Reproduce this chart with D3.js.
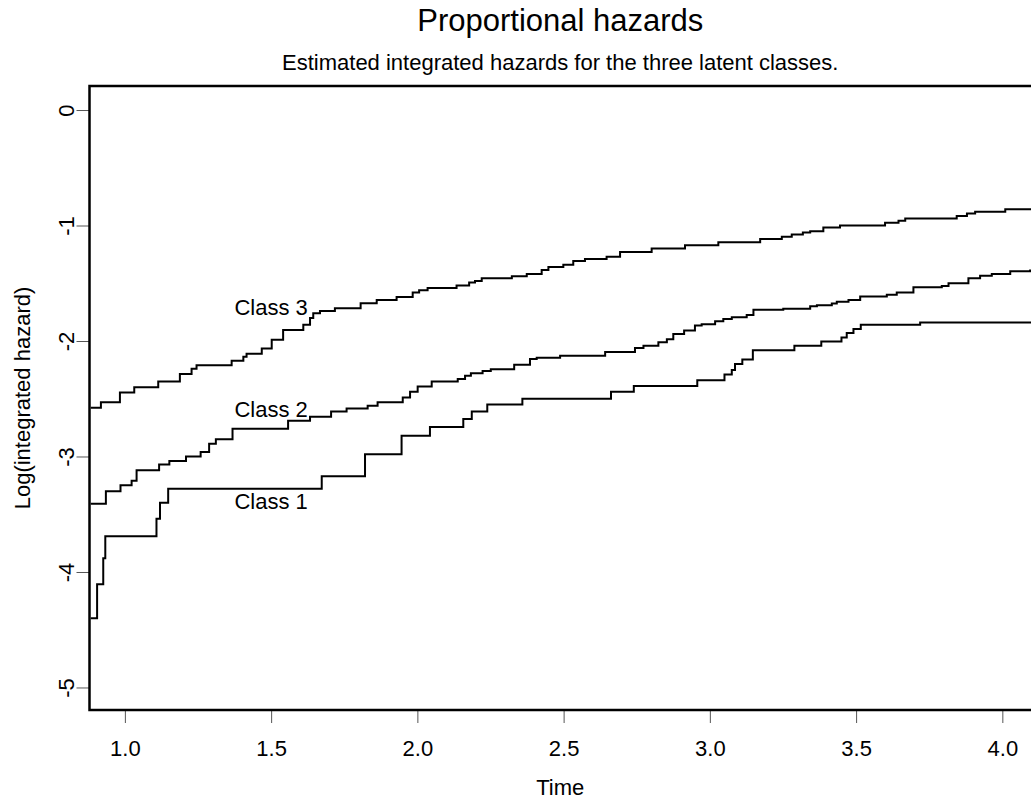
<!DOCTYPE html>
<html>
<head>
<meta charset="utf-8">
<script src="https://cdn.jsdelivr.net/npm/d3@7"></script>
<style>
  html, body { margin: 0; padding: 0; background: #fff; }
  svg { display: block; font-family: "Liberation Sans", Arial, Helvetica, sans-serif; }
</style>
</head>
<body>
<svg id="chart" width="1031" height="800"></svg>
<script>
// Step points of the estimated log integrated hazard, one pair of arrays per class.
const timesClass1 = [0.883, 0.905, 0.926, 0.933, 1.108, 1.120, 1.148, 1.673, 1.821, 1.946,
  2.043, 2.157, 2.186, 2.239, 2.359, 2.662, 2.740, 2.957, 3.050, 3.075, 3.086, 3.111,
  3.147, 3.289, 3.381, 3.450, 3.468, 3.491, 3.516, 3.719];
const logHazClass1 = [-4.40, -4.106, -3.88, -3.69, -3.54, -3.40, -3.28, -3.17, -2.98, -2.82,
  -2.745, -2.675, -2.61, -2.55, -2.50, -2.44, -2.39, -2.34, -2.29, -2.25, -2.20, -2.16,
  -2.08, -2.04, -2.005, -1.97, -1.93, -1.896, -1.86, -1.84];

const timesClass2 = [0.883, 0.935, 0.985, 1.023, 1.040, 1.117, 1.152, 1.209, 1.259, 1.288,
  1.311, 1.368, 1.558, 1.633, 1.705, 1.758, 1.830, 1.864, 1.950, 1.975, 2.001, 2.049,
  2.138, 2.163, 2.183, 2.223, 2.251, 2.331, 2.385, 2.408, 2.488, 2.642, 2.744, 2.773,
  2.824, 2.853, 2.875, 2.912, 2.949, 2.972, 3.018, 3.046, 3.075, 3.126, 3.149, 3.251,
  3.343, 3.366, 3.417, 3.434, 3.474, 3.514, 3.605, 3.639, 3.696, 3.793, 3.816, 3.884,
  3.924, 3.964, 4.027, 4.095];
const logHazClass2 = [-3.41, -3.30, -3.25, -3.21, -3.12, -3.07, -3.04, -3.00, -2.96, -2.89,
  -2.85, -2.76, -2.69, -2.655, -2.61, -2.585, -2.56, -2.53, -2.49, -2.44, -2.395, -2.35,
  -2.33, -2.30, -2.28, -2.26, -2.245, -2.205, -2.156, -2.145, -2.127, -2.095, -2.06, -2.04,
  -2.01, -1.985, -1.94, -1.91, -1.865, -1.855, -1.83, -1.81, -1.795, -1.775, -1.73, -1.72,
  -1.70, -1.69, -1.675, -1.66, -1.645, -1.615, -1.60, -1.58, -1.535, -1.524, -1.50, -1.457,
  -1.435, -1.42, -1.397, -1.39];

const timesClass3 = [0.883, 0.918, 0.983, 1.032, 1.114, 1.188, 1.228, 1.245, 1.365, 1.405,
  1.416, 1.468, 1.502, 1.541, 1.610, 1.633, 1.644, 1.667, 1.718, 1.806, 1.861, 1.929,
  1.984, 2.006, 2.035, 2.134, 2.177, 2.197, 2.220, 2.323, 2.374, 2.425, 2.448, 2.499,
  2.533, 2.573, 2.647, 2.693, 2.801, 2.915, 3.029, 3.172, 3.246, 3.280, 3.318, 3.343,
  3.388, 3.445, 3.599, 3.645, 3.668, 3.844, 3.879, 3.907, 4.010];
const logHazClass3 = [-2.577, -2.53, -2.445, -2.40, -2.35, -2.286, -2.24, -2.21, -2.17, -2.136,
  -2.11, -2.065, -1.99, -1.905, -1.86, -1.80, -1.76, -1.74, -1.717, -1.674, -1.645, -1.62,
  -1.58, -1.56, -1.54, -1.52, -1.494, -1.48, -1.457, -1.44, -1.42, -1.385, -1.36, -1.34,
  -1.307, -1.29, -1.27, -1.23, -1.20, -1.17, -1.145, -1.117, -1.097, -1.077, -1.06, -1.05,
  -1.018, -1.00, -0.975, -0.958, -0.94, -0.918, -0.895, -0.88, -0.86];

const classNames = ["Class 1", "Class 2", "Class 3"];
const labelTimes = [1.5, 1.5, 1.5];
const labelLogHaz = [-3.39, -2.59, -1.71];

const xTickValues = [1.0, 1.5, 2.0, 2.5, 3.0, 3.5, 4.0];
const xTickLabels = ["1.0", "1.5", "2.0", "2.5", "3.0", "3.5", "4.0"];
const yTickValues = [0, -1, -2, -3, -4, -5];
const yTickLabels = ["0", "-1", "-2", "-3", "-4", "-5"];

const titleText = "Proportional hazards";
const subtitleText = "Estimated integrated hazards for the three latent classes.";
const xLabel = "Time";
const yLabel = "Log(integrated hazard)";

// ---- layout ----
const plotLeft = 89.5, plotRight = 1031, plotTop = 86, plotBottom = 710;
const xDomain = [0.879, 4.098];
const yDomain = [-5.195, 0.208];

const svg = d3.select("#chart");

const x = d3.scaleLinear().domain(xDomain).range([plotLeft, plotRight]);
const y = d3.scaleLinear().domain(yDomain).range([plotBottom, plotTop]);

svg.append("defs").append("clipPath").attr("id", "plot-clip")
  .append("rect")
  .attr("x", plotLeft).attr("y", plotTop)
  .attr("width", plotRight - plotLeft + 20).attr("height", plotBottom - plotTop);

// Step curves
const series = [
  { t: timesClass1, v: logHazClass1 },
  { t: timesClass2, v: logHazClass2 },
  { t: timesClass3, v: logHazClass3 }
].map(s => {
  const pts = s.t.map((t, i) => [t, s.v[i]]);
  // carry the last level to the right edge of the time axis
  pts.push([xDomain[1] + 0.05, s.v[s.v.length - 1]]);
  return pts;
});

const line = d3.line()
  .x(d => x(d[0]))
  .y(d => y(d[1]))
  .curve(d3.curveStepAfter);

svg.append("g").attr("clip-path", "url(#plot-clip)")
  .selectAll("path")
  .data(series)
  .join("path")
  .attr("d", line)
  .attr("fill", "none")
  .attr("stroke", "#000")
  .attr("stroke-width", 2)
  .attr("stroke-linejoin", "miter");

// Curve labels
svg.append("g")
  .selectAll("text")
  .data(classNames)
  .join("text")
  .attr("x", (d, i) => x(labelTimes[i]))
  .attr("y", (d, i) => y(labelLogHaz[i]))
  .attr("dy", "0.36em")
  .attr("text-anchor", "middle")
  .attr("font-size", 22)
  .attr("fill", "#000")
  .text(d => d);

// X axis ticks
const xAxis = svg.append("g")
  .attr("transform", `translate(0,${plotBottom})`)
  .call(d3.axisBottom(x).tickValues(xTickValues).tickSize(13)
    .tickFormat((d, i) => xTickLabels[i]));
xAxis.select(".domain").remove();
xAxis.selectAll(".tick line").attr("stroke", "#555").attr("stroke-width", 1);
xAxis.selectAll(".tick text")
  .attr("y", 46).attr("dy", null)
  .attr("font-size", 22).attr("fill", "#000");
xAxis.attr("font-family", null);

// Y axis ticks, labels turned parallel to the axis
const yAxis = svg.append("g")
  .attr("transform", `translate(${plotLeft},0)`)
  .call(d3.axisLeft(y).tickValues(yTickValues).tickSize(13)
    .tickFormat((d, i) => yTickLabels[i]));
yAxis.select(".domain").remove();
yAxis.selectAll(".tick line").attr("stroke", "#555").attr("stroke-width", 1);
yAxis.selectAll(".tick text")
  .attr("x", null).attr("dy", null)
  .attr("transform", "translate(-16,0) rotate(-90)")
  .attr("text-anchor", "middle")
  .attr("font-size", 22).attr("fill", "#000");
yAxis.attr("font-family", null);

// Plot frame (right side falls past the page edge)
svg.append("rect")
  .attr("x", plotLeft).attr("y", plotTop)
  .attr("width", plotRight - plotLeft + 20).attr("height", plotBottom - plotTop)
  .attr("fill", "none").attr("stroke", "#000").attr("stroke-width", 2.5);

// Titles
const cx = (plotLeft + plotRight) / 2;
svg.append("text")
  .attr("x", cx).attr("y", 31)
  .attr("text-anchor", "middle").attr("font-size", 31).attr("fill", "#000")
  .text(titleText);
svg.append("text")
  .attr("x", cx).attr("y", 70)
  .attr("text-anchor", "middle").attr("font-size", 22).attr("fill", "#000")
  .text(subtitleText);

// Axis titles
svg.append("text")
  .attr("x", cx).attr("y", 795)
  .attr("text-anchor", "middle").attr("font-size", 22).attr("fill", "#000")
  .text(xLabel);
svg.append("text")
  .attr("transform", `translate(30,${(plotTop + plotBottom) / 2}) rotate(-90)`)
  .attr("text-anchor", "middle").attr("font-size", 22).attr("fill", "#000")
  .text(yLabel);
</script>
</body>
</html>
